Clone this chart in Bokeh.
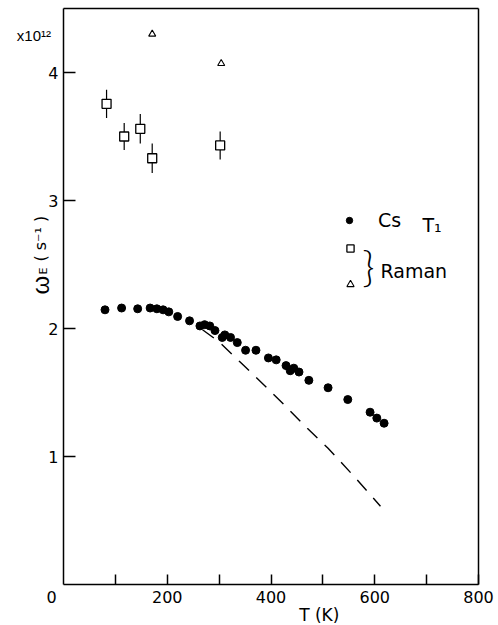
import math
from bokeh.plotting import figure
from bokeh.models import Range1d, FixedTicker, Label, Legend, LegendItem, LinearAxis
from bokeh.embed import file_html
from bokeh.resources import INLINE

# ---- data ----
cs_T = [80, 112, 143, 167, 180, 192, 203, 220, 243, 263, 272, 282, 292, 306, 311,
        322, 335, 351, 371, 395, 410, 429, 437, 444, 454, 473, 510, 548, 591, 604, 618]
cs_w = [2.146, 2.160, 2.154, 2.160, 2.154, 2.146, 2.130, 2.094, 2.060, 2.020, 2.030,
        2.020, 1.984, 1.930, 1.950, 1.930, 1.890, 1.830, 1.830, 1.770, 1.755, 1.710,
        1.670, 1.690, 1.660, 1.595, 1.537, 1.445, 1.346, 1.300, 1.260]

raman_sq_T = [83, 117, 148, 171, 302]
raman_sq_w = [3.755, 3.50, 3.56, 3.33, 3.43]
raman_sq_err = [0.11, 0.105, 0.115, 0.115, 0.11]

raman_tri_T = [171, 304]
raman_tri_w = [4.30, 4.07]

theory_T = [268, 300, 340, 390, 430, 470, 510, 560, 611]
theory_w = [1.99, 1.895, 1.74, 1.545, 1.385, 1.22, 1.065, 0.845, 0.612]

x_ticks = [100, 200, 300, 400, 500, 600, 700, 800]
x_tick_labels = {100: "", 200: "200", 300: "", 400: "400", 500: "", 600: "600", 700: "", 800: "800"}
y_ticks = [1, 2, 3, 4]

X_MIN, X_MAX = 0, 800
Y_MIN, Y_MAX = 0, 4.5

FONT = "DejaVu Sans"

# frame covers the whole figure; axes are drawn at fixed locations inside it
p = figure(width=498, height=625,
           x_range=Range1d(-121.45, 838.55), y_range=Range1d(-0.3203, 4.5625),
           output_backend="svg", toolbar_location=None, title=None,
           x_axis_location=None, y_axis_location=None,
           min_border=0, min_border_left=0, min_border_right=0,
           min_border_top=0, min_border_bottom=0)
p.xgrid.visible = False
p.ygrid.visible = False
p.outline_line_color = None
p.background_fill_color = "white"
p.border_fill_color = "white"


def style(ax):
    ax.axis_line_width = 1.5
    ax.axis_line_color = "black"
    ax.major_tick_line_width = 1.5
    ax.major_tick_line_color = "black"
    ax.major_tick_out = 0
    ax.minor_tick_line_color = None
    ax.major_label_text_font = FONT
    ax.major_label_text_color = "black"


xaxis = LinearAxis(fixed_location=Y_MIN, bounds=(X_MIN, X_MAX),
                   ticker=FixedTicker(ticks=x_ticks), major_label_overrides=x_tick_labels)
style(xaxis)
xaxis.major_tick_in = 10
xaxis.major_label_text_font_size = "16px"
xaxis.major_label_standoff = 6
p.add_layout(xaxis, "below")

yaxis = LinearAxis(fixed_location=X_MIN, bounds=(Y_MIN, Y_MAX), ticker=FixedTicker(ticks=y_ticks))
style(yaxis)
yaxis.major_tick_in = 12
yaxis.major_label_text_font_size = "16px"
yaxis.major_label_standoff = 5
p.add_layout(yaxis, "left")

top = LinearAxis(fixed_location=Y_MAX, bounds=(X_MIN, X_MAX), ticker=FixedTicker(ticks=[]))
style(top)
top.major_label_text_font_size = "0px"
p.add_layout(top, "above")

right = LinearAxis(fixed_location=X_MAX, bounds=(Y_MIN, Y_MAX), ticker=FixedTicker(ticks=[]))
style(right)
right.major_label_text_font_size = "0px"
p.add_layout(right, "right")

# ---- data marks ----
p.line(theory_T, theory_w, line_color="black", line_width=1.4, line_dash="14 10")
cs = p.scatter(cs_T, cs_w, marker="circle", size=8, color="black")
p.segment(x0=raman_sq_T, x1=raman_sq_T,
          y0=[w - e for w, e in zip(raman_sq_w, raman_sq_err)],
          y1=[w + e for w, e in zip(raman_sq_w, raman_sq_err)],
          line_color="black", line_width=1.2)
sq = p.scatter(raman_sq_T, raman_sq_w, marker="square", size=9, fill_color="white",
               line_color="black", line_width=1.3)
tri = p.scatter(raman_tri_T, raman_tri_w, marker="triangle", size=7, fill_color="white",
                line_color="black", line_width=1.1)

# ---- legends ----
leg_a = Legend(items=[LegendItem(label="Cs", renderers=[cs])], location=(341, 394),
               padding=0, margin=0, glyph_width=16, glyph_height=20, label_height=20,
               label_standoff=21, border_line_color=None, background_fill_alpha=0,
               label_text_font=FONT, label_text_font_size="19px", label_text_color="black")
leg_b = Legend(items=[LegendItem(label=" ", renderers=[sq]), LegendItem(label=" ", renderers=[tri])],
               location=(341, 331), padding=0, margin=0, glyph_width=18, glyph_height=20,
               label_height=20, spacing=16, border_line_color=None, background_fill_alpha=0,
               label_text_font=FONT, label_text_font_size="19px", label_text_color="black")
p.add_layout(leg_a, "center")
p.add_layout(leg_b, "center")


def lab(text, x, y, size, align="left", baseline="alphabetic", angle=0, font=FONT):
    p.add_layout(Label(x=x, y=y, text=text, text_font=font, text_font_size=size,
                       text_align=align, text_baseline=baseline, angle=angle,
                       text_color="black"))


lab("T₁", 692, 2.805, "19px")
lab("}", 576, 2.492, "42px", baseline="middle", font="Lato Light")
lab("Raman", 611, 2.453, "19px")

# axis annotations
lab("0", -23, -0.10, "16px", align="center", baseline="middle")
lab("T (K)", 493, -0.242, "17px", align="center")
lab("x10¹²", -90, 4.29, "15px", font="Liberation Sans")
# rotated y-axis label  ω_E (s⁻¹)
lab("ω", -44.3, 2.266, "24px", angle=math.pi / 2, font="Liberation Sans")
lab("E", -38.6, 2.422, "11px", angle=math.pi / 2)
lab("( s⁻¹ )", -44.3, 2.523, "16px", angle=math.pi / 2)

open("out.html", "w").write(file_html(p, INLINE))
